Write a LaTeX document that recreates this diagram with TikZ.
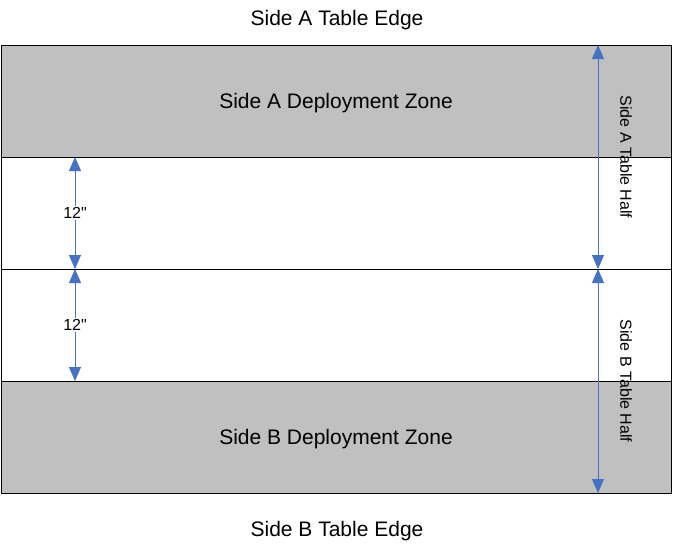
\documentclass[tikz,border=0pt]{standalone}
\usepackage{fontspec}
\setmainfont{Liberation Sans}
\usepackage{xcolor}
\usepackage{tikz}
\usetikzlibrary{arrows.meta, positioning, calc}
\definecolor{zonegray}{RGB}{192, 192, 192}
\definecolor{dimblue}{RGB}{68, 114, 196}

\tikzset{
    band/.style={draw=black, line width=0.8pt, minimum width=670pt, minimum height=112pt, inner sep=0pt, outer sep=0pt},
    dimline/.style={dimblue, line width=0.9pt, {Triangle[length=14pt, width=12pt]}-{Triangle[length=14pt, width=12pt]}},
    bigtext/.style={font=\fontsize{21}{25}\selectfont, text depth=0pt},
    smalltext/.style={font=\fontsize{16}{19}\selectfont}
}

\begin{document}
\begin{tikzpicture}[x=1pt, y=-1pt]
    \useasboundingbox (0,0) rectangle (673,546);

    % Table edges
    \node[bigtext] (edgeA) at (337,18) {Side A Table Edge};
    \node[bigtext] (edgeB) at (337,529) {Side B Table Edge};

    % The bands of the table
    \node[band, fill=zonegray, bigtext] (zoneA) at (336,101) {Side A Deployment Zone};
    \node[band, fill=white] (midA) at (336,213) {};
    \node[band, fill=white] (midB) at (336,325) {};
    \node[band, fill=zonegray, bigtext] (zoneB) at (336,437) {Side B Deployment Zone};

    % Measure lines
    \coordinate (leftx) at (75,0);
    \coordinate (rightx) at (598,0);

    \draw[dimline] (midA.north -| leftx) -- (midA.south -| leftx)
        node[midway, fill=white, text=black, inner sep=1pt, smalltext] (inchA) {12\textquotedbl};
    \draw[dimline] (midB.north -| leftx) -- (midB.south -| leftx)
        node[midway, fill=white, text=black, inner sep=1pt, smalltext] (inchB) {12\textquotedbl};

    \draw[dimline] (zoneA.north -| rightx) -- (midA.south -| rightx);
    \draw[dimline] (midB.north -| rightx) -- (zoneB.south -| rightx);

    % Half labels
    \node[smalltext, rotate=-90] (halfA) at (626,157) {Side A Table Half};
    \node[smalltext, rotate=-90] (halfB) at (626,381) {Side B Table Half};
\end{tikzpicture}
\end{document}
